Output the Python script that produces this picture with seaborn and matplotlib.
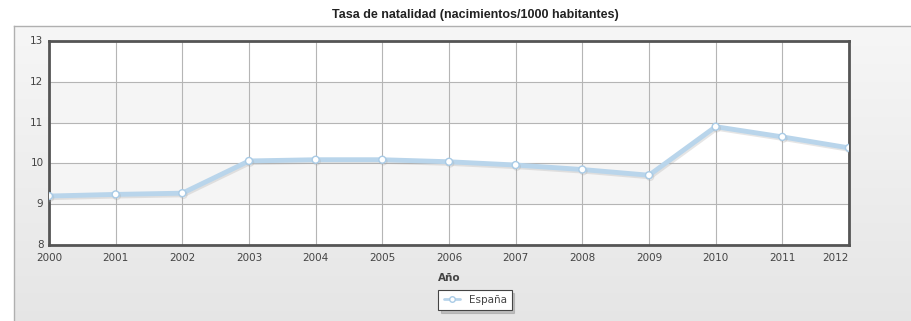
import matplotlib
matplotlib.use("Agg")
import matplotlib.pyplot as plt
import matplotlib.patheffects as pe
import seaborn as sns
import pandas as pd
import numpy as np
from matplotlib.lines import Line2D

years = [2000, 2001, 2002, 2003, 2004, 2005, 2006, 2007, 2008, 2009, 2010, 2011, 2012]
rates = [9.20, 9.24, 9.27, 10.06, 10.09, 10.09, 10.04, 9.96, 9.85, 9.71, 10.90, 10.65, 10.38]
series_name = "España"
title = "Tasa de natalidad (nacimientos/1000 habitantes)"
xlabel = "Año"
yticks = [8, 9, 10, 11, 12, 13]

df = pd.DataFrame({"year": years, "rate": rates, "serie": series_name})

sns.set_theme(style="white")
plt.rcParams['font.family'] = ['DejaVu Sans']

W, H = 912, 321
fig = plt.figure(figsize=(W / 100, H / 100), dpi=100)
fig.patch.set_facecolor("white")

# gray panel background with gradient
bg = fig.add_axes([14 / W, 0, 1 - 14 / W, 1 - 26 / H], zorder=0)
grad = np.linspace(0.965, 0.90, 100).reshape(-1, 1)
bg.imshow(np.dstack([grad, grad, grad]), aspect="auto", extent=[0, 1, 0, 1], origin="upper")
bg.set_xlim(0, 1); bg.set_ylim(0, 1)
bg.set_xticks([]); bg.set_yticks([])
for s in ["right", "bottom"]:
    bg.spines[s].set_visible(False)
for s in ["left", "top"]:
    bg.spines[s].set_color("#b0b0b0")
    bg.spines[s].set_linewidth(1)

left, right, top, bottom = 49, 849, 41, 245
ax = fig.add_axes([left / W, 1 - bottom / H, (right - left) / W, (bottom - top) / H], zorder=2)
ax.set_facecolor("white")

# alternating bands
for lo in [9, 11]:
    ax.axhspan(lo, lo + 1, facecolor="#f5f5f5", zorder=0, lw=0)

sns.lineplot(data=df, x="year", y="rate", ax=ax, color="#b9d5eb", lw=3.5,
             marker="o", markersize=5, markerfacecolor="white", markeredgecolor="#a9cbe6",
             markeredgewidth=1.0, legend=False, zorder=3,
             path_effects=[pe.SimpleLineShadow(offset=(0.8, -1.2), shadow_color="#aaaaaa", alpha=0.3),
                           pe.Normal()])

ax.set_xlim(2000, 2012)
ax.set_ylim(8, 13)
ax.set_xticks(years)
ax.set_yticks(yticks)
ax.grid(True, color="#b5b5b5", lw=0.8)
ax.set_axisbelow(True)
for s in ax.spines.values():
    s.set_color("#555555")
    s.set_linewidth(2)
ax.tick_params(axis="both", length=0, labelsize=7.5, colors="#444444")
ax.tick_params(axis="y", pad=4)
ax.tick_params(axis="x", pad=6)
ax.set_yticklabels([str(t) for t in yticks])
for lbl in ax.get_yticklabels():
    lbl.set_verticalalignment("center")
ax.set_xticklabels([str(y) for y in years])
ax.get_xticklabels()[-1].set_horizontalalignment("right")
ax.set_xlabel(xlabel, fontsize=7.5, fontweight="bold", color="#444444", labelpad=7)
ax.set_ylabel("")

fig.text(475 / W, 1 - 15 / H, title, ha="center", va="center", fontsize=9,
         fontweight="bold", color="#222222", family=["Liberation Sans", "DejaVu Sans"])

h = Line2D([], [], color="#b9d5eb", lw=2, marker="o", markersize=4,
           markerfacecolor="white", markeredgecolor="#a9cbe6")
leg = fig.legend([h], [series_name], loc="center", bbox_to_anchor=(475 / W, 1 - 300 / H),
                 frameon=True, fancybox=False, shadow={"color": "#999999", "alpha": 0.5},
                 fontsize=7.5, handlelength=1.6, borderpad=0.5, handletextpad=0.8)
leg.get_frame().set_edgecolor("#444444")
leg.get_frame().set_linewidth(0.8)
for t in leg.get_texts():
    t.set_color("#444444")

fig.savefig("out.png", dpi=100)
